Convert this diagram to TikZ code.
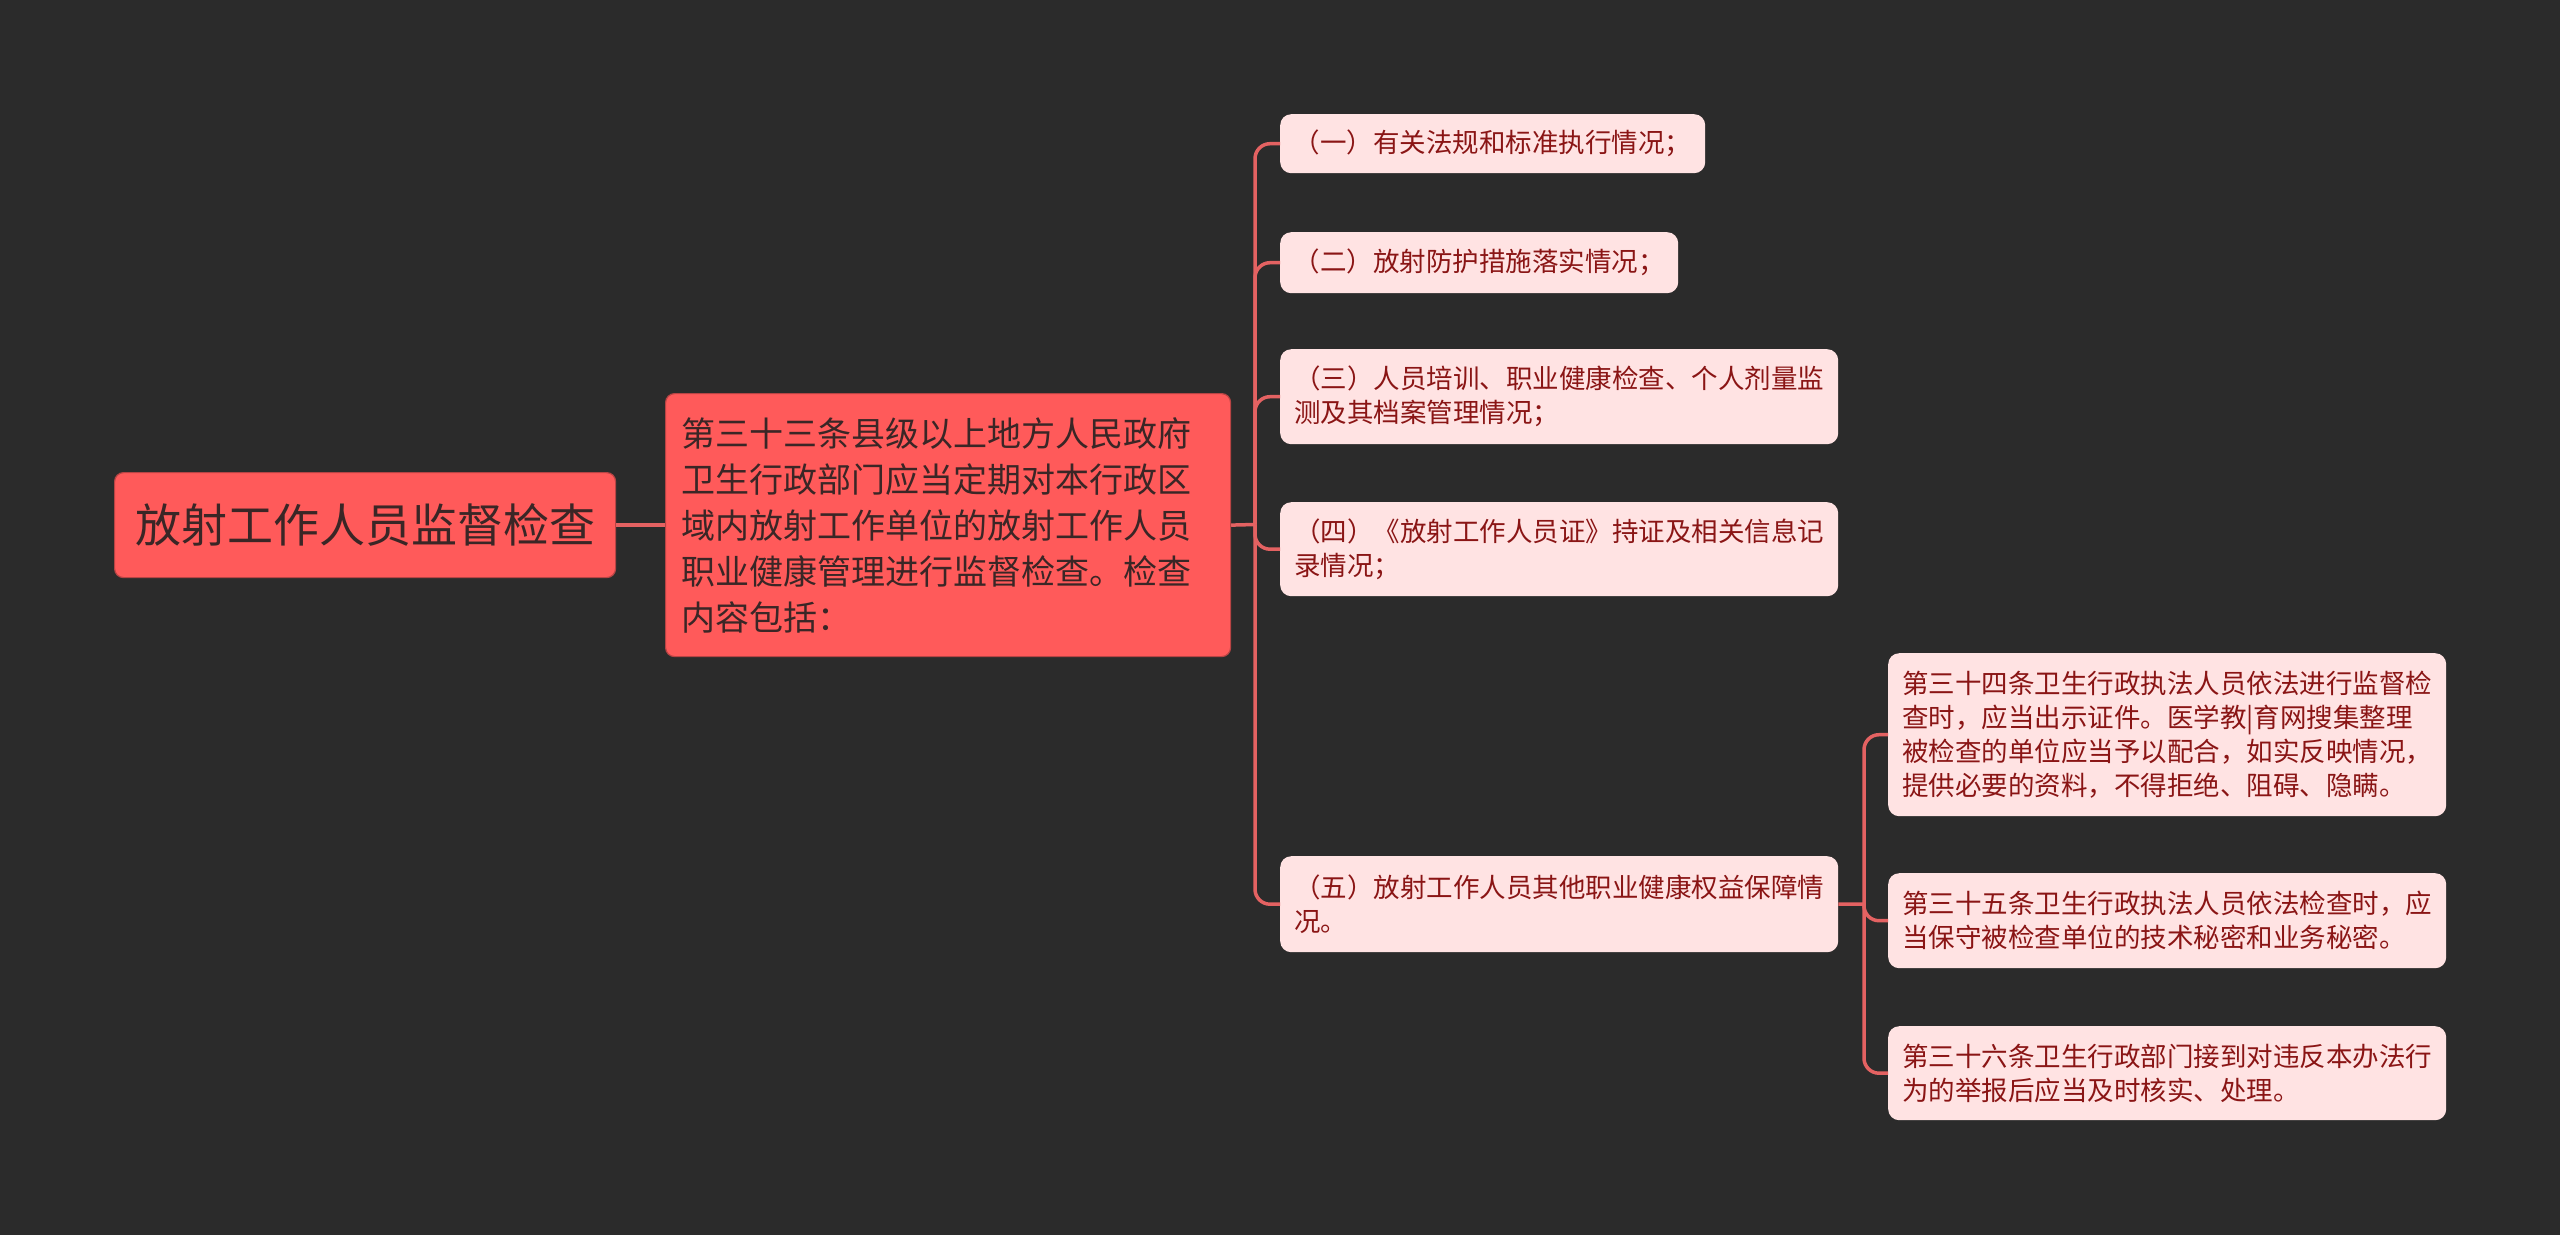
\documentclass[tikz,border=0pt]{standalone}
\usepackage{fontspec}
\setmainfont{Noto Sans CJK SC}
\definecolor{bg}{HTML}{2B2B2B}
\definecolor{rootfill}{HTML}{FF5A5A}
\definecolor{rootline}{HTML}{B84444}
\definecolor{leaffill}{HTML}{FFE3E3}
\definecolor{leaftext}{HTML}{8A1515}
\definecolor{darktext}{HTML}{3A2626}
\definecolor{conn}{HTML}{E46262}
\begin{document}
\begin{tikzpicture}[x=1pt,y=-1pt,
  rootbox/.style={fill=rootfill, draw=rootline, line width=1.2pt, rounded corners=9pt,
    text=darktext, anchor=north west, inner sep=0pt, align=center,
    font=\fontsize{46}{56}\selectfont},
  subbox/.style={fill=rootfill, draw=rootline, line width=1.2pt, rounded corners=9pt,
    text=darktext, anchor=north west, inner xsep=16pt, inner ysep=0pt, align=left,
    text width=533pt, font=\fontsize{34}{46}\selectfont},
  leafbox/.style={fill=leaffill, rounded corners=11pt,
    text=leaftext, anchor=north west, inner sep=0pt, align=left,
    font=\fontsize{26.5}{34}\selectfont},
  link/.style={draw=conn, line width=3.5pt, rounded corners=15pt}
]
\useasboundingbox (0,0) rectangle (2560,1235);
\fill[bg] (0,0) rectangle (2560,1235);

\node[rootbox, minimum width=501pt, minimum height=105pt] (root) at (114,472) {放射工作人员监督检查};

\node[subbox, minimum height=263pt] (sub) at (665,393)
  {第三十三条县级以上地方人民政府\\卫生行政部门应当定期对本行政区\\域内放射工作单位的放射工作人员\\职业健康管理进行监督检查。检查\\内容包括：};

\node[leafbox, minimum width=425pt, minimum height=59pt] (l1) at (1280,114) {（一）有关法规和标准执行情况；};
\node[leafbox, minimum width=398pt, minimum height=61pt] (l2) at (1280,232) {（二）放射防护措施落实情况；};
\node[leafbox, minimum width=558pt, minimum height=95pt] (l3) at (1280,349) {（三）人员培训、职业健康检查、个人剂量监\\测及其档案管理情况；};
\node[leafbox, minimum width=558pt, minimum height=94pt] (l4) at (1280,502) {（四）《放射工作人员证》持证及相关信息记\\录情况；};
\node[leafbox, minimum width=558pt, minimum height=96pt] (l5) at (1280,856) {（五）放射工作人员其他职业健康权益保障情\\况。};

\node[leafbox, minimum width=558pt, minimum height=163pt] (s1) at (1888,653) {第三十四条卫生行政执法人员依法进行监督检\\查时，应当出示证件。医学教|育网搜集整理\\被检查的单位应当予以配合，如实反映情况，\\提供必要的资料，不得拒绝、阻碍、隐瞒。};
\node[leafbox, minimum width=558pt, minimum height=95pt] (s2) at (1888,873) {第三十五条卫生行政执法人员依法检查时，应\\当保守被检查单位的技术秘密和业务秘密。};
\node[leafbox, minimum width=558pt, minimum height=94pt] (s3) at (1888,1026) {第三十六条卫生行政部门接到对违反本办法行\\为的举报后应当及时核实、处理。};

\coordinate (j1) at (1255,524.5);
\coordinate (j2) at (1864,904);

\draw[link] (root.east) -- (sub.west);
\draw[link] (sub.east) -- (j1);
\foreach \n in {l1,l2,l3,l4,l5} \draw[link] (j1) |- (\n.west);
\draw[link] (l5.east) -- (j2);
\foreach \n in {s1,s2,s3} \draw[link] (j2) |- (\n.west);
\end{tikzpicture}
\end{document}
